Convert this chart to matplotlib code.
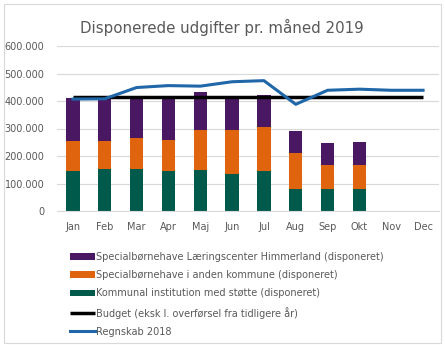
import matplotlib
matplotlib.use("Agg")
import matplotlib.pyplot as plt
import numpy as np
from matplotlib.patches import Rectangle

months = ["Jan", "Feb", "Mar", "Apr", "Maj", "Jun", "Jul", "Aug", "Sep", "Okt", "Nov", "Dec"]
kommunal = [144000, 152000, 152000, 146000, 150000, 135000, 144000, 79000, 79000, 79000, np.nan, np.nan]
anden_top = [255000, 255000, 266000, 259000, 296000, 296000, 307000, 210000, 169000, 169000, np.nan, np.nan]
total_top = [412000, 410000, 420000, 411000, 432000, 411000, 420000, 292000, 247000, 251000, np.nan, np.nan]
anden = [a - k for a, k in zip(anden_top, kommunal)]
laering = [t - a for t, a in zip(total_top, anden_top)]
budget = [415000] * 12
regnskab = [407000, 408000, 449000, 456000, 454000, 470000, 474000, 388000, 439000, 443000, 439000, 439000]

labels = [
    "Specialbørnehave Læringscenter Himmerland (disponeret)",
    "Specialbørnehave i anden kommune (disponeret)",
    "Kommunal institution med støtte (disponeret)",
    "Budget (eksk l. overførsel fra tidligere år)",
    "Regnskab 2018",
]

c_purple = "#4A1763"
c_orange = "#E0640E"
c_green = "#005A4C"
c_blue = "#1F67A8"

W, H = 445, 347
fig = plt.figure(figsize=(W / 100, H / 100), dpi=100)
ax = fig.add_axes([57 / W, 1 - 211 / H, (439 - 57) / W, (211 - 46) / H])

x = np.arange(len(months))
bw = 0.42
ax.bar(x, kommunal, bw, color=c_green, label=labels[2], zorder=2)
ax.bar(x, anden, bw, bottom=kommunal, color=c_orange, label=labels[1], zorder=2)
ax.bar(x, laering, bw, bottom=anden_top, color=c_purple, label=labels[0], zorder=2)
ax.plot(x, budget, color="black", lw=2.5, label=labels[3], zorder=3, solid_capstyle="butt")
ax.plot(x, regnskab, color=c_blue, lw=2.2, label=labels[4], zorder=4)

ax.set_xlim(-0.5, 11.5)
ax.set_ylim(0, 600000)
yt = np.arange(0, 600001, 100000)
ax.set_yticks(yt)
ax.set_yticklabels(["0"] + [f"{v // 1000}.000" for v in yt[1:]])
ax.set_xticks(x)
ax.set_xticklabels(months)
ax.tick_params(axis="both", length=0, labelsize=7, colors="#595959")
ax.tick_params(axis="x", pad=8)
ax.tick_params(axis="y", pad=9)
ax.grid(axis="y", color="#D9D9D9", lw=0.8, zorder=0)
for s in ["top", "right", "left"]:
    ax.spines[s].set_visible(False)
ax.spines["bottom"].set_color("#D9D9D9")

fig.text(222 / W, 1 - 27 / H, "Disponerede udgifter pr. måned 2019", ha="center", va="center",
         fontsize=10.8, color="#595959")

handles, lbls = ax.get_legend_handles_labels()
hmap = dict(zip(lbls, handles))
leg = fig.legend([hmap[l] for l in labels], labels, loc="upper left",
                 bbox_to_anchor=(66 / W, 1 - 248 / H), frameon=False, fontsize=7,
                 labelspacing=0.85, handlelength=2.6, handletextpad=0.1,
                 borderaxespad=0)
for t in leg.get_texts():
    t.set_color("#595959")

fig.patches.append(Rectangle((4 / W, 4 / H), (441 - 4) / W, (343 - 4) / H,
                             transform=fig.transFigure, fill=False, ec="#D9D9D9", lw=0.8))

fig.savefig("out.png", dpi=100)
